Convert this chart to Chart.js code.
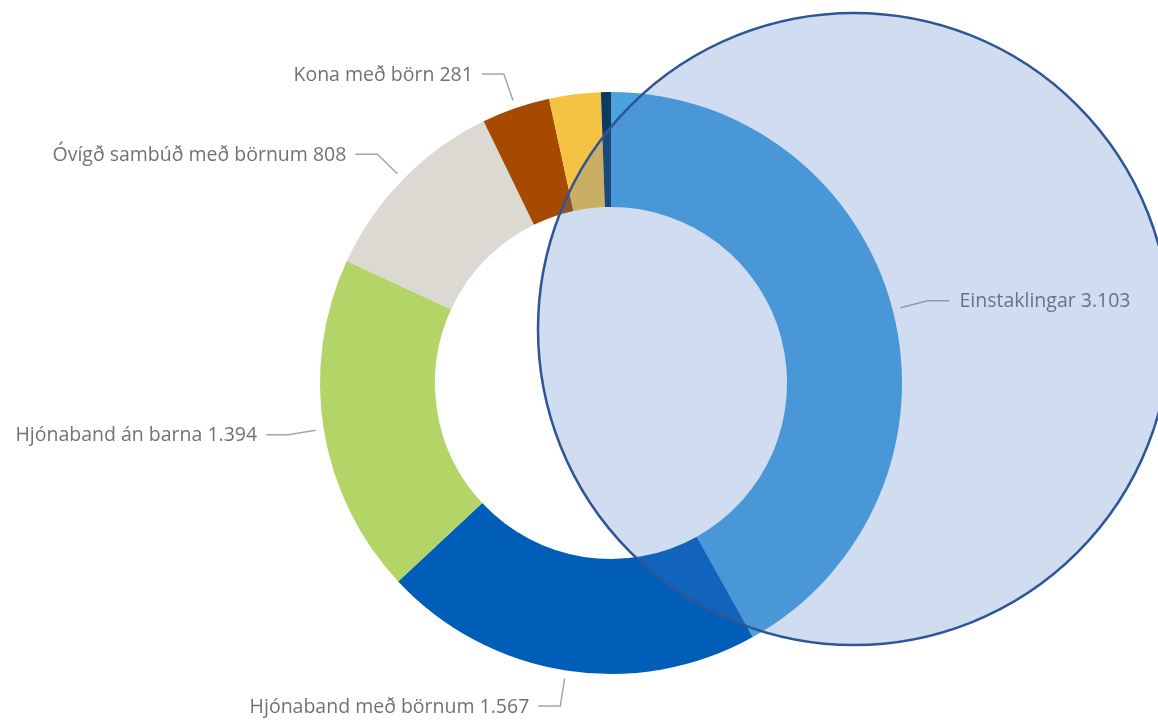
<!DOCTYPE html>
<html>
<head>
<meta charset="utf-8">
<script src="https://cdn.jsdelivr.net/npm/chart.js@4"></script>
<style>
  html, body { margin: 0; padding: 0; background: #fff; }
  #wrap { width: 1158px; height: 720px; position: relative; }
</style>
</head>
<body>
<div id="wrap"><canvas id="donut"></canvas></div>
<script>
// data
const categories = ['Einstaklingar', 'Hjónaband með börnum', 'Hjónaband án barna',
  'Óvígð sambúð með börnum', 'Kona með börn', 'Karl með börn', 'Annað'];
const households = [3103, 1567, 1394, 808, 281, 212, 41];
const sliceColors = ['#4BA3DE', '#005EB8', '#B3D567', '#DCD9D2', '#A64A00', '#F5C343', '#0D3A63'];

const fmt = v => String(v).replace(/\B(?=(\d{3})+(?!\d))/g, '.');

// Power BI style outside labels with leader lines
const leaderLabels = {
  id: 'leaderLabels',
  afterDatasetsDraw(chart) {
    const ctx = chart.ctx;
    const meta = chart.getDatasetMeta(0);
    ctx.save();
    ctx.font = '19.5px "Open Sans", sans-serif';
    ctx.textBaseline = 'middle';
    meta.data.forEach((arc, i) => {
      const v = households[i];
      if (v < 250) return; // small slices get no label
      const mid = (arc.startAngle + arc.endAngle) / 2;
      const r = arc.outerRadius;
      const cx = arc.x, cy = arc.y;
      const p0 = [cx + Math.cos(mid) * (r + 8), cy + Math.sin(mid) * (r + 8)];
      const p1 = [cx + Math.cos(mid) * (r + 36), cy + Math.sin(mid) * (r + 36)];
      const right = Math.cos(mid) >= 0;
      const p2 = [p1[0] + (right ? 22 : -22), p1[1]];
      ctx.strokeStyle = '#A6A6A6';
      ctx.lineWidth = 1.5;
      ctx.beginPath();
      ctx.moveTo(p0[0], p0[1]);
      ctx.lineTo(p1[0], p1[1]);
      ctx.lineTo(p2[0], p2[1]);
      ctx.stroke();
      ctx.fillStyle = '#727272';
      ctx.textAlign = right ? 'left' : 'right';
      ctx.fillText(categories[i] + ' ' + fmt(v), p2[0] + (right ? 10 : -9), p2[1] + 1);
    });
    ctx.restore();
  }
};

// the big translucent circle laid over the picture
const overlayCircle = {
  id: 'overlayCircle',
  afterDraw(chart) {
    const ctx = chart.ctx;
    ctx.save();
    ctx.beginPath();
    ctx.arc(854, 329, 316, 0, Math.PI * 2);
    ctx.fillStyle = 'rgba(68, 114, 196, 0.25)';
    ctx.fill();
    ctx.lineWidth = 2.5;
    ctx.strokeStyle = '#2F5597';
    ctx.stroke();
    ctx.restore();
  }
};

new Chart(document.getElementById('donut'), {
  type: 'doughnut',
  data: {
    labels: categories,
    datasets: [{
      data: households,
      backgroundColor: sliceColors,
      borderWidth: 0,
      hoverOffset: 0
    }]
  },
  options: {
    responsive: true,
    maintainAspectRatio: false,
    animation: false,
    cutout: '60.5%',
    layout: {
      padding: { left: 320, right: 256, top: 92, bottom: 46 }
    },
    plugins: {
      legend: { display: false },
      tooltip: { enabled: false }
    }
  },
  plugins: [leaderLabels, overlayCircle]
});
</script>
</body>
</html>
